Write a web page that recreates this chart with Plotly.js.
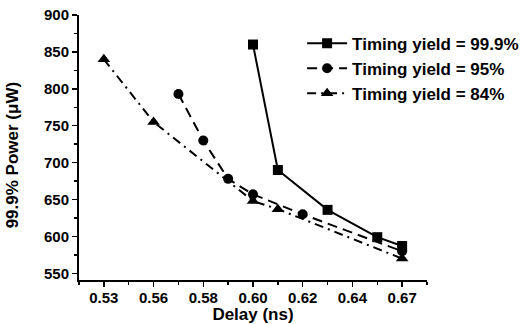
<!DOCTYPE html>
<html>
<head>
<meta charset="utf-8">
<script src="https://cdn.plot.ly/plotly-3.0.1.min.js"></script>
<style>html,body{margin:0;padding:0;background:#fff;}#chart{width:529px;height:324px;}</style>
</head>
<body>
<div id="chart"></div>
<script>
// Axis tick positions and labels as printed on the reference
const tickPositions = [0.54, 0.56, 0.58, 0.60, 0.62, 0.64, 0.66];
const tickLabels = ["0.53", "0.56", "0.58", "0.60", "0.62", "0.64", "0.67"];

// Series (x = position on delay axis, y = power in µW)
const yield999X = [0.60, 0.61, 0.63, 0.65, 0.66];
const yield999Y = [860, 690, 636, 599, 587];

const yield95X = [0.57, 0.58, 0.59, 0.60, 0.62, 0.66];
const yield95Y = [793, 730, 678, 657, 630, 580];

const yield84X = [0.54, 0.56, 0.60, 0.61, 0.66];
const yield84Y = [840, 755, 648, 637, 570];

const names = ["Timing yield = 99.9%", "Timing yield = 95%", "Timing yield = 84%"];

const font = {family: "Liberation Sans, Arial, sans-serif", color: "#000", weight: "bold"};

const traces = [
  {x: yield999X, y: yield999Y, name: names[0], mode: "lines+markers",
   line: {color: "#000", width: 2, dash: "solid"},
   marker: {symbol: "square", size: 10, color: "#000"}},
  {x: yield95X, y: yield95Y, name: names[1], mode: "lines+markers",
   line: {color: "#000", width: 2, dash: "10px,6px"},
   marker: {symbol: "circle", size: 10, color: "#000"}},
  {x: yield84X, y: yield84Y, name: names[2], mode: "lines+markers",
   line: {color: "#000", width: 2, dash: "9px,5px,2px,5px"},
   marker: {symbol: "triangle-up", size: 11, color: "#000"}}
];

const layout = {
  width: 529, height: 324,
  margin: {l: 79, r: 102, t: 15, b: 44, pad: 0, autoexpand: false},
  paper_bgcolor: "#fff", plot_bgcolor: "#fff",
  font: Object.assign({size: 15}, font),
  showlegend: true,
  legend: {x: 1.279, y: 0.96, xanchor: "right", yanchor: "top",
           font: Object.assign({size: 17}, font), bgcolor: "rgba(0,0,0,0)",
           itemwidth: 40, tracegroupgap: 0},
  xaxis: {
    range: [0.53, 0.67], tickmode: "array", tickvals: tickPositions, ticktext: tickLabels,
    showgrid: false, zeroline: false, showline: true, linecolor: "#000", linewidth: 2,
    ticks: "outside", ticklen: 5, tickwidth: 1.5, tickcolor: "#000",
    tickfont: Object.assign({size: 15}, font), ticklabelstandoff: -2,
    minor: {tickmode: "linear", tick0: 0.53, dtick: 0.01, ticks: "outside", ticklen: 3, tickwidth: 1.5, tickcolor: "#000", showgrid: false},
    title: {text: "Delay (ns)", font: Object.assign({size: 17}, font), standoff: 0}
  },
  yaxis: {
    range: [541, 900], tickmode: "linear", tick0: 550, dtick: 50,
    showgrid: false, zeroline: false, showline: true, linecolor: "#000", linewidth: 2,
    ticks: "outside", ticklen: 5, tickwidth: 1.5, tickcolor: "#000",
    tickfont: Object.assign({size: 15}, font),
    minor: {tickmode: "linear", tick0: 550, dtick: 25, ticks: "outside", ticklen: 3, tickwidth: 1.5, tickcolor: "#000", showgrid: false}
  },
  annotations: [{
    text: "99.9% Power (μW)", textangle: -90, showarrow: false,
    xref: "paper", yref: "paper", x: -0.19, y: 0.47, xanchor: "center", yanchor: "middle",
    font: Object.assign({size: 17}, font)
  }]
};

Plotly.newPlot("chart", traces, layout, {staticPlot: true, displayModeBar: false});
</script>
</body>
</html>
